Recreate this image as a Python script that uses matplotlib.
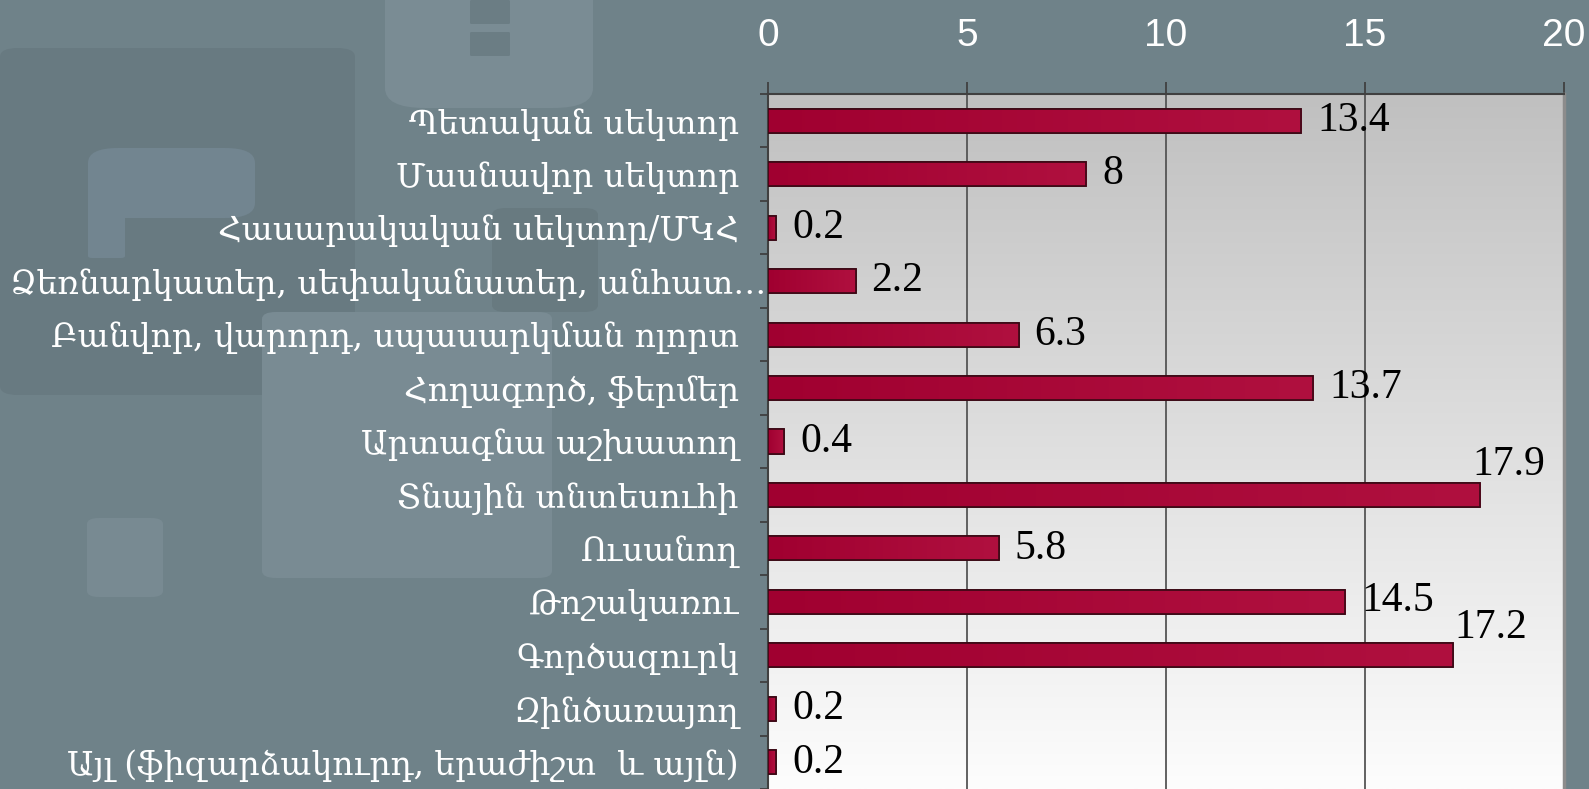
import numpy as np
import matplotlib
matplotlib.use("Agg")
import matplotlib.pyplot as plt
from matplotlib.patches import FancyBboxPatch
from matplotlib.colors import LinearSegmentedColormap

# ---------------- data ----------------
categories = [
    "Պետական սեկտոր",
    "Մասնավոր սեկտոր",
    "Հասարակական սեկտոր/ՄԿՀ",
    "Ձեռնարկատեր, սեփականատեր, անհատ…",
    "Բանվոր, վարորդ, սպասարկման ոլորտ",
    "Հողագործ, ֆերմեր",
    "Արտագնա աշխատող",
    "Տնային տնտեսուհի",
    "Ուսանող",
    "Թոշակառու",
    "Գործազուրկ",
    "Զինծառայող",
    "Այլ (ֆիզարձակուրդ, երաժիշտ  և այլն)",
]
values = [13.4, 8, 0.2, 2.2, 6.3, 13.7, 0.4, 17.9, 5.8, 14.5, 17.2, 0.2, 0.2]
value_labels = ["13.4", "8", "0.2", "2.2", "6.3", "13.7", "0.4", "17.9", "5.8", "14.5", "17.2", "0.2", "0.2"]
x_ticks = [0, 5, 10, 15, 20]

# label offsets (points) for labels that were moved in the original
label_shift = {7: (-6, 22), 9: (11.5, 1), 10: (1.5, 20)}

W, H, DPI = 1589, 789, 100
fig = plt.figure(figsize=(W / DPI, H / DPI), dpi=DPI)
fig.patch.set_facecolor("#6f8289")


def fig_box(x0, y0, x1, y1, color, alpha=1.0, r=18):
    p = FancyBboxPatch((x0 / W, 1 - y1 / H), (x1 - x0) / W, (y1 - y0) / H,
                       boxstyle=f"round,pad=0,rounding_size={r / W}",
                       transform=fig.transFigure, facecolor=color,
                       edgecolor="none", alpha=alpha, zorder=-10)
    fig.patches.append(p)


# decorative background shapes
fig_box(0, 48, 355, 395, "#687a81")
fig_box(385, -30, 593, 108, "#7a8c94", r=40)
fig_box(470, 0, 510, 24, "#6b7d84", r=2)
fig_box(470, 32, 510, 56, "#6b7d84", r=2)
fig_box(88, 148, 255, 218, "#728590", r=30)
fig_box(88, 190, 125, 258, "#728590", r=4)
fig_box(492, 208, 598, 312, "#687a80", r=14)
fig_box(262, 312, 552, 578, "#798b93", r=14)
fig_box(87, 518, 163, 597, "#788a92", r=12)

# axes
ax_left, ax_right, ax_top = 768, 1564, 94
ax = fig.add_axes([ax_left / W, 0, (ax_right - ax_left) / W, (H - ax_top) / H])
ax.set_facecolor("none")

n = len(categories)
ypos = np.arange(n)
ax.set_xlim(0, 20)
ax.set_ylim(n - 0.5, -0.5)

# gradient plot area (gray at top -> white at bottom)
grad = np.linspace(0, 1, 256).reshape(-1, 1)
bg_cmap = LinearSegmentedColormap.from_list("bg", ["#c0c0c0", "#fdfdfd"])
ax.imshow(grad, extent=[0, 1, 0, 1], transform=ax.transAxes, cmap=bg_cmap,
          aspect="auto", zorder=0, interpolation="bilinear")

# vertical gridlines
for xv in x_ticks[1:-1]:
    ax.axvline(xv, color="#555555", lw=1.3, zorder=1)

# bars with subtle horizontal gradient
bar_cmap = LinearSegmentedColormap.from_list("bar", ["#a00030", "#b0103f"])
bh = 0.45
bars = ax.barh(ypos, values, height=bh, color="#a50034", edgecolor="#3a0814",
               linewidth=1.2, zorder=3)
hgrad = np.linspace(0, 1, 256).reshape(1, -1)
for b, v, y in zip(bars, values, ypos):
    im = ax.imshow(hgrad, extent=[0, v, y + bh / 2, y - bh / 2], cmap=bar_cmap,
                   aspect="auto", zorder=3.5, interpolation="bilinear")
    im.set_clip_path(b)
    ax.barh(y, v, height=bh, color="none", edgecolor="#3a0814",
            linewidth=1.2, zorder=4)

# value labels
for i, (v, lab) in enumerate(zip(values, value_labels)):
    dx, dy = label_shift.get(i, (11.5, 0))
    ax.annotate(lab, xy=(v, ypos[i]), xytext=(dx, dy), textcoords="offset points",
                ha="left", va="center", fontsize=30, color="black",
                family=["Liberation Serif", "DejaVu Serif"], zorder=6)

# spines
ax.spines["bottom"].set_visible(False)
ax.spines["top"].set_color("#404040")
ax.spines["top"].set_linewidth(1.5)
ax.spines["left"].set_color("#404040")
ax.spines["left"].set_linewidth(1.5)
ax.spines["right"].set_color("#8c8c8c")
ax.spines["right"].set_linewidth(2.5)

# x ticks on top
ax.xaxis.tick_top()
ax.set_xticks(x_ticks)
ax.set_xticklabels([str(t) for t in x_ticks])
ax.tick_params(axis="x", which="major", direction="out", length=9, width=1.3,
               color="#404040", pad=20, labelsize=28, labelcolor="white",
               bottom=False, top=True)
for t in ax.get_xticklabels():
    t.set_family(["Liberation Sans", "DejaVu Sans"])

# y ticks
ax.set_yticks(ypos)
ax.set_yticklabels(categories)
ax.set_yticks(np.arange(-0.5, n, 1), minor=True)
ax.tick_params(axis="y", which="major", length=0, pad=21, labelcolor="white")
ax.tick_params(axis="y", which="minor", direction="out", length=6, width=1.3,
               color="#404040")
# the truncated label runs up to the axis in the original
ax.yaxis.get_major_ticks()[3].set_pad(1)

# fit category label font so the last label spans the reference width
target_w = 669
fs = 22
for t in ax.get_yticklabels():
    t.set_family(["DejaVu Serif", "DejaVu Sans"])
    t.set_fontsize(fs)
fig.canvas.draw()
renderer = fig.canvas.get_renderer()
w_last = ax.get_yticklabels()[-1].get_window_extent(renderer).width
fs_new = fs * target_w / w_last
for t in ax.get_yticklabels():
    t.set_fontsize(fs_new)

fig.savefig("out.png", dpi=DPI, facecolor=fig.get_facecolor())
